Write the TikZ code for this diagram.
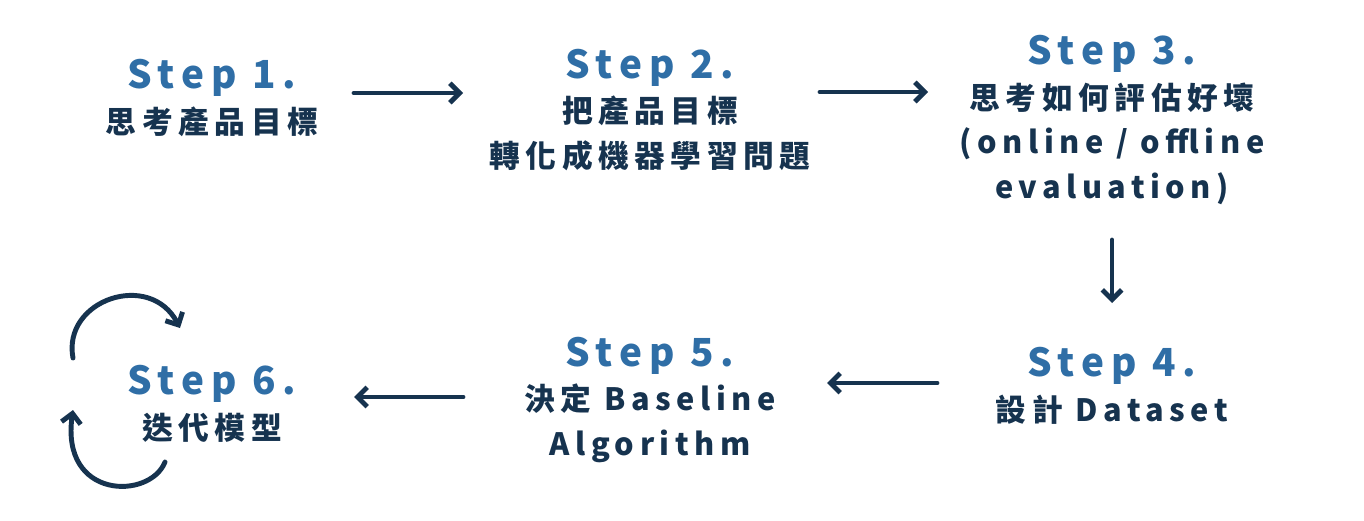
\documentclass[tikz,border=0pt]{standalone}
\usepackage{fontspec}
\usepackage{xcolor}
\usetikzlibrary{arrows.meta}
\setmainfont{Noto Sans CJK TC}[LetterSpace=18]
\definecolor{stepblue}{HTML}{2F6EA6}
\definecolor{navy}{HTML}{16334F}
\newcommand{\steptitle}[1]{{\fontsize{22}{27}\selectfont\color{stepblue}Step~#1.}}

\begin{document}
\begin{tikzpicture}[x=0.02cm,y=-0.02cm,
  stepbox/.style={align=center,text=navy,font=\bfseries\fontsize{17.5}{25.5}\selectfont,inner sep=0pt},
  flow/.style={draw=navy,line width=2.8pt,line cap=round,line join=round,
    -{Straight Barb[length=5.5pt,width=11pt,line width=2.8pt]}}]
\useasboundingbox (0,0) rectangle (1364,520);

% 上排
\node[stepbox] (s1) at (212,98) {\steptitle{1}\\思考產品目標};
\node[stepbox] (s2) at (650,110) {\steptitle{2}\\把產品目標\\轉化成機器學習問題};
\node[stepbox] (s3) at (1112,120) {\steptitle{3}\\思考如何評估好壞\\(online / offline\\evaluation)};

% 下排
\node[stepbox] (s4) at (1112,386) {\steptitle{4}\\設計 Dataset};
\node[stepbox] (s5) at (650,400) {\steptitle{5}\\決定 Baseline\\Algorithm};
\node[stepbox] (s6) at (212,404) {\steptitle{6}\\迭代模型};

% 箭頭端點
\coordinate (a1s) at (354,93);  \coordinate (a1e) at (463,93);
\coordinate (a2s) at (820,92);  \coordinate (a2e) at (928,92);
\coordinate (a3s) at (1112,240); \coordinate (a3e) at (1112,303);
\coordinate (a4s) at (937,383); \coordinate (a4e) at (827,383);
\coordinate (a5s) at (463,397); \coordinate (a5e) at (354,397);

\draw[flow] (a1s) -- (a1e);
\draw[flow] (a2s) -- (a2e);
\draw[flow] (a3s) -- (a3e);
\draw[flow] (a4s) -- (a4e);
\draw[flow] (a5s) -- (a5e);

% 迭代的循環箭頭
\coordinate (c1s) at (73,358); \coordinate (c1e) at (180,328);
\coordinate (c2s) at (165,462); \coordinate (c2e) at (73,410);
\draw[flow] (c1s) .. controls (62,300) and (150,270) .. (c1e);
\draw[flow] (c2s) .. controls (150,500) and (60,500) .. (c2e);
\end{tikzpicture}
\end{document}
